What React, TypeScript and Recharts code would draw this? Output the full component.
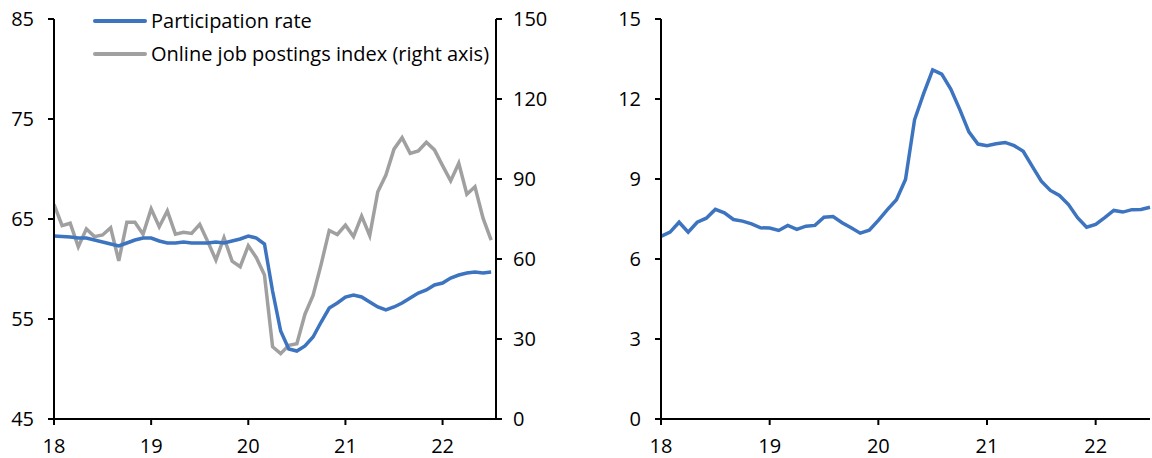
import { LineChart, Line, XAxis, YAxis } from 'recharts';

// Monthly, Jan 2018 to Jul 2022
const yearLabels = ['18', '19', '20', '21', '22'];
const yearTicks = [0, 12, 24, 36, 48];

const participationRate = [
  63.3, 63.25, 63.2, 63.1, 63.1, 62.9, 62.7, 62.5, 62.3, 62.6, 62.9, 63.1,
  63.1, 62.8, 62.6, 62.6, 62.7, 62.6, 62.6, 62.6, 62.7, 62.6, 62.8, 63.0,
  63.3, 63.1, 62.5, 57.8, 53.8, 52.0, 51.8, 52.3, 53.2, 54.7, 56.1, 56.6,
  57.2, 57.4, 57.2, 56.7, 56.2, 55.9, 56.2, 56.6, 57.1, 57.6, 57.9, 58.4,
  58.6, 59.1, 59.4, 59.6, 59.7, 59.6, 59.7,
];

const jobPostings = [
  80.5, 72.5, 73.4, 64.6, 71.3, 68.4, 69.0, 71.7, 59.3, 73.8, 73.8, 69.3,
  78.8, 72.1, 78.0, 69.3, 70.0, 69.6, 73.0, 66.5, 59.6, 68.0, 59.2, 57.1,
  65.0, 60.5, 54.0, 27.1, 24.5, 27.6, 28.2, 39.3, 46.3, 58.0, 70.7, 69.2,
  72.7, 68.4, 76.1, 68.8, 85.2, 91.5, 101.2, 105.5, 99.6, 100.5, 103.8, 100.9,
  95.0, 89.3, 95.9, 84.3, 87.1, 75.3, 67.1,
];

const rightPanel = [
  6.85, 7.01, 7.38, 7.01, 7.38, 7.53, 7.86, 7.73, 7.48, 7.42, 7.32, 7.17,
  7.16, 7.07, 7.26, 7.11, 7.23, 7.26, 7.57, 7.59, 7.36, 7.17, 6.97, 7.08,
  7.45, 7.85, 8.22, 8.98, 11.22, 12.2, 13.09, 12.93, 12.37, 11.6, 10.77, 10.31,
  10.25, 10.32, 10.37, 10.25, 10.04, 9.47, 8.92, 8.57, 8.38, 8.04, 7.55, 7.19,
  7.3, 7.55, 7.82, 7.76, 7.85, 7.86, 7.94,
];

const legendItems = ['Participation rate', 'Online job postings index (right axis)'];

const leftData = participationRate.map((v, i) => ({ m: i, rate: v, postings: jobPostings[i] }));
const rightData = rightPanel.map((v, i) => ({ m: i, value: v }));

const BLUE = '#3d74c0';
const GREY = '#a0a0a0';
const FONT = '"Open Sans", sans-serif';
const tickStyle = { fontSize: 20, fill: '#000', fontFamily: FONT };
const axisLine = { stroke: '#000', strokeWidth: 2 };
const fmtYear = (v: number) => yearLabels[yearTicks.indexOf(v)] ?? '';

function LegendBox() {
  const colors = [BLUE, GREY];
  return (
    <div style={{ position: 'absolute', left: 93, top: 4, fontFamily: FONT, fontSize: 20, color: '#000' }}>
      {legendItems.map((label, i) => (
        <div key={label} style={{ display: 'flex', alignItems: 'center', height: 33 }}>
          <svg width={54} height={6} style={{ marginRight: 4 }}>
            <line x1={2} y1={3} x2={52} y2={3} stroke={colors[i]} strokeWidth={4} strokeLinecap="round" />
          </svg>
          <span style={{ whiteSpace: 'nowrap' }}>{label}</span>
        </div>
      ))}
    </div>
  );
}

export default function App() {
  return (
    <div style={{ position: 'absolute', left: 0, top: 0, width: 1152, height: 458, background: '#fff' }}>
      <div style={{ position: 'absolute', left: 0, top: 0 }}>
        <LineChart width={560} height={458} data={leftData} margin={{ top: 19, right: 0, bottom: 0, left: 0 }}>
          <XAxis
            dataKey="m"
            type="number"
            domain={[0, 54.6]}
            allowDataOverflow
            ticks={yearTicks}
            tickFormatter={fmtYear}
            height={39}
            tick={tickStyle}
            axisLine={axisLine}
            tickLine={axisLine}
            tickSize={6}
            tickMargin={14}
          />
          <YAxis
            yAxisId="left"
            domain={[45, 85]}
            ticks={[45, 55, 65, 75, 85]}
            width={54}
            tick={tickStyle}
            axisLine={axisLine}
            tickLine={axisLine}
            tickSize={6}
            tickMargin={14}
          />
          <YAxis
            yAxisId="right"
            orientation="right"
            domain={[0, 150]}
            ticks={[0, 30, 60, 90, 120, 150]}
            width={64}
            tick={tickStyle}
            axisLine={axisLine}
            tickLine={axisLine}
            tickSize={6}
            tickMargin={11}
          />
          <Line
            yAxisId="right"
            dataKey="postings"
            stroke={GREY}
            strokeWidth={3.5}
            dot={false}
            type="linear"
            isAnimationActive={false}
          />
          <Line
            yAxisId="left"
            dataKey="rate"
            stroke={BLUE}
            strokeWidth={3.5}
            dot={false}
            type="linear"
            isAnimationActive={false}
          />
        </LineChart>
        <LegendBox />
      </div>
      <div style={{ position: 'absolute', left: 600, top: 0 }}>
        <LineChart width={552} height={458} data={rightData} margin={{ top: 19, right: 2, bottom: 0, left: 0 }}>
          <XAxis
            dataKey="m"
            type="number"
            domain={[0, 54]}
            ticks={yearTicks}
            tickFormatter={fmtYear}
            height={39}
            tick={tickStyle}
            axisLine={axisLine}
            tickLine={axisLine}
            tickSize={6}
            tickMargin={14}
          />
          <YAxis
            domain={[0, 15]}
            ticks={[0, 3, 6, 9, 12, 15]}
            width={61}
            tick={tickStyle}
            axisLine={axisLine}
            tickLine={axisLine}
            tickSize={6}
            tickMargin={14}
          />
          <Line
            dataKey="value"
            stroke={BLUE}
            strokeWidth={3.5}
            dot={false}
            type="linear"
            isAnimationActive={false}
          />
        </LineChart>
      </div>
    </div>
  );
}
